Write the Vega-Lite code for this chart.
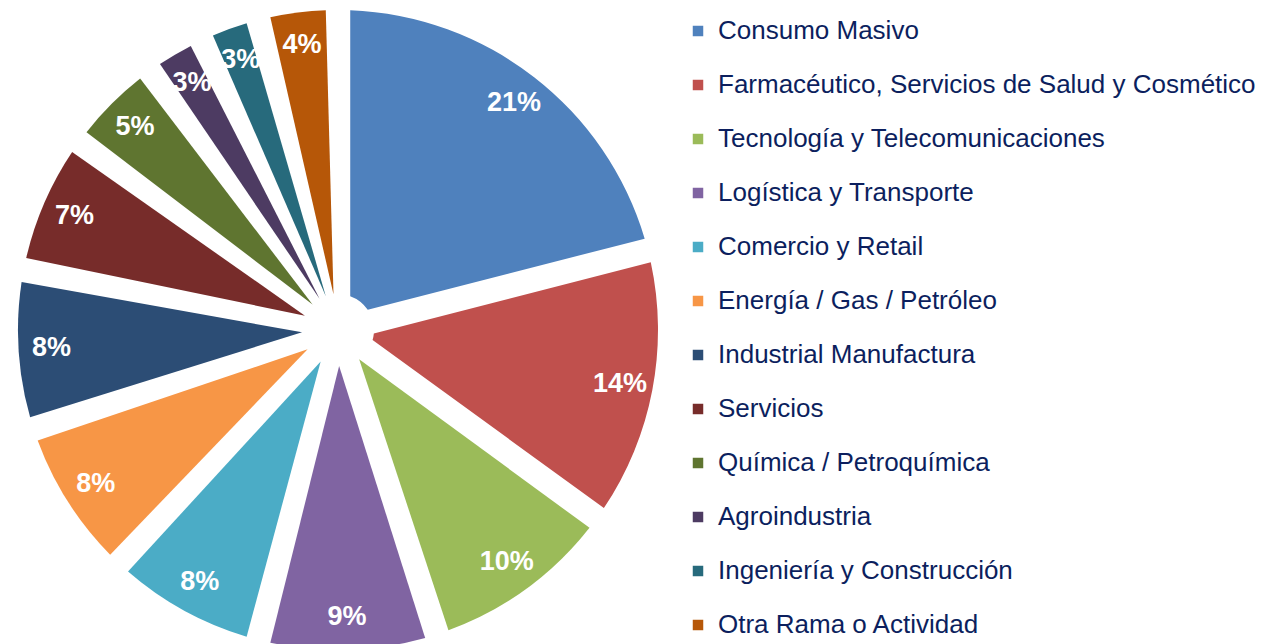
{
  "$schema": "https://vega.github.io/schema/vega-lite/v6.json",
  "width": 676,
  "height": 660,
  "padding": 0,
  "background": "white",
  "config": {"view": {"stroke": null}},
  "data": {
    "values": [
      {"idx": 1, "sector": "Consumo Masivo", "share": 0.21},
      {"idx": 2, "sector": "Farmacéutico, Servicios de Salud y Cosmético", "share": 0.14},
      {"idx": 3, "sector": "Tecnología y Telecomunicaciones", "share": 0.10},
      {"idx": 4, "sector": "Logística y Transporte", "share": 0.09},
      {"idx": 5, "sector": "Comercio y Retail", "share": 0.08},
      {"idx": 6, "sector": "Energía / Gas / Petróleo", "share": 0.08},
      {"idx": 7, "sector": "Industrial Manufactura", "share": 0.08},
      {"idx": 8, "sector": "Servicios", "share": 0.07},
      {"idx": 9, "sector": "Química / Petroquímica", "share": 0.05},
      {"idx": 10, "sector": "Agroindustria", "share": 0.03},
      {"idx": 11, "sector": "Ingeniería y Construcción", "share": 0.03},
      {"idx": 12, "sector": "Otra Rama o Actividad", "share": 0.04}
    ]
  },
  "encoding": {
    "theta": {"field": "share", "type": "quantitative", "stack": true},
    "order": {"field": "idx", "type": "quantitative"}
  },
  "layer": [
    {
      "mark": {"type": "arc", "outerRadius": 320, "innerRadius": 36, "padAngle": 0.076},
      "encoding": {
        "color": {
          "field": "sector",
          "type": "nominal",
          "scale": {
            "domain": ["Consumo Masivo", "Farmacéutico, Servicios de Salud y Cosmético", "Tecnología y Telecomunicaciones", "Logística y Transporte", "Comercio y Retail", "Energía / Gas / Petróleo", "Industrial Manufactura", "Servicios", "Química / Petroquímica", "Agroindustria", "Ingeniería y Construcción", "Otra Rama o Actividad"],
            "range": ["#4F81BD", "#C0504D", "#9BBB59", "#8064A2", "#4BACC6", "#F79646", "#2C4D75", "#772C2A", "#5F7530", "#4D3B62", "#276A7C", "#B65708"]
          },
          "legend": {
            "title": null,
            "orient": "none",
            "legendX": 685,
            "legendY": 18,
            "padding": 0,
            "symbolType": "square",
            "symbolSize": 110,
            "symbolStrokeWidth": 0,
            "labelFont": "Liberation Sans",
            "labelFontSize": 26,
            "labelColor": "#0C1F5E",
            "labelOffset": 7,
            "labelLimit": 700,
            "rowPadding": 28
          }
        }
      }
    },
    {
      "mark": {"type": "text", "radius": 287, "font": "Liberation Sans", "fontSize": 27, "fontWeight": "bold", "fill": "white", "align": "center", "baseline": "middle"},
      "encoding": {
        "text": {"field": "share", "type": "quantitative", "format": ".0%"}
      }
    }
  ]
}
